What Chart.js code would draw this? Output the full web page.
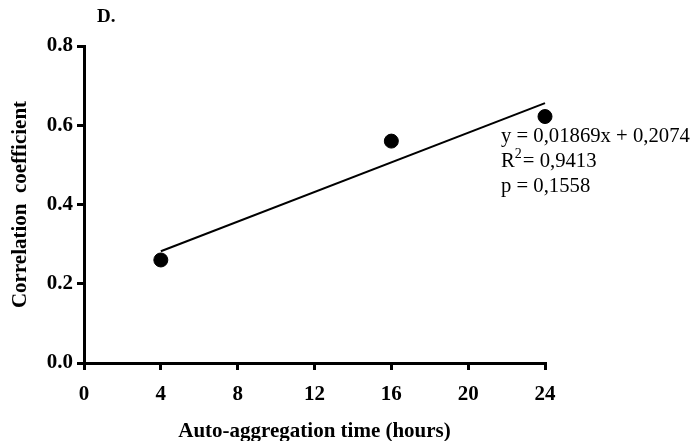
<!DOCTYPE html>
<html>
<head>
<meta charset="utf-8">
<title>D. Correlation coefficient vs auto-aggregation time</title>
<script src="https://cdnjs.cloudflare.com/ajax/libs/Chart.js/4.4.1/chart.umd.min.js"></script>
<style>
    html, body { margin: 0; padding: 0; background: #fff; }
    #wrap { width: 693px; height: 441px; position: relative; }
</style>
</head>
<body>
<div id="wrap"><canvas id="chart" width="693" height="441"></canvas></div>
<script>
/* Panel D: correlation coefficient over auto-aggregation time */

// ── Data ──────────────────────────────────────────────────────────────────
var hours       = [4, 16, 24];
var correlation = [0.26, 0.56, 0.622];

// fitted line ends (x = 4 and x = 24)
var fitHours = [4, 24];
var fitValues = [0.282, 0.656];

var xTicks = [0, 4, 8, 12, 16, 20, 24];
var yTicks = [0.0, 0.2, 0.4, 0.6, 0.8];

var panelLabel = 'D.';
var xTitle = 'Auto-aggregation time (hours)';
var yTitle = 'Correlation  coefficient';
var fitText = ['y = 0,01869x + 0,2074', '0,9413', 'p = 0,1558'];

(function () {
    'use strict';

    var SERIF = '"Liberation Serif", "Times New Roman", serif';

    function pairs(xs, ys) {
        return xs.map(function (x, i) { return { x: x, y: ys[i] }; });
    }

    // ── Text drawn on top: panel letter + regression box ───────────────────
    var notes = {
        id: 'notes',
        afterDraw: function (chart) {
            var ctx = chart.ctx;
            var area = chart.chartArea;
            ctx.save();
            ctx.fillStyle = '#000';
            ctx.textBaseline = 'alphabetic';

            ctx.font = 'bold 19px ' + SERIF;
            ctx.textAlign = 'left';
            ctx.fillText(panelLabel, area.left + 13, 22);

            var x0 = area.right - 44;
            ctx.font = '20.7px ' + SERIF;
            ctx.fillText(fitText[0], x0, 142);

            // R² with a raised small 2
            ctx.fillText('R', x0, 167);
            var rw = ctx.measureText('R').width;
            ctx.font = '14px ' + SERIF;
            ctx.fillText('2', x0 + rw, 158);
            var sw = ctx.measureText('2').width;
            ctx.font = '20.7px ' + SERIF;
            ctx.fillText('= ' + fitText[1], x0 + rw + sw + 1, 167);

            ctx.fillText(fitText[2], x0, 192);
            ctx.restore();
        }
    };

    var tickFont  = { family: SERIF, size: 21, weight: 'bold' };
    var titleFont = { family: SERIF, size: 21, weight: 'bold', lineHeight: 0.85 };

    new Chart(document.getElementById('chart').getContext('2d'), {
        type: 'scatter',
        data: {
            datasets: [
                {
                    label: 'fit',
                    type: 'line',
                    data: pairs(fitHours, fitValues),
                    borderColor: '#000',
                    borderWidth: 2,
                    pointRadius: 0,
                    fill: false,
                    clip: false,
                    order: 2
                },
                {
                    label: 'correlation',
                    data: pairs(hours, correlation),
                    backgroundColor: '#000',
                    borderColor: '#000',
                    pointRadius: 7,
                    pointHoverRadius: 7,
                    clip: false,
                    order: 1
                }
            ]
        },
        plugins: [notes],
        options: {
            responsive: false,
            animation: false,
            devicePixelRatio: 1,
            layout: { padding: { top: 46, right: 148, bottom: 0, left: 0 } },
            plugins: {
                legend: { display: false },
                tooltip: { enabled: false },
                title: { display: false }
            },
            scales: {
                x: {
                    type: 'linear',
                    min: xTicks[0],
                    max: xTicks[xTicks.length - 1],
                    afterBuildTicks: function (s) {
                        s.ticks = xTicks.map(function (v) { return { value: v }; });
                    },
                    afterFit: function (s) { s.height = 78; },
                    border: { display: true, color: '#000', width: 3 },
                    grid: { drawOnChartArea: false, drawTicks: true, tickLength: 7, color: '#000', lineWidth: 3 },
                    ticks: { color: '#000', font: tickFont, padding: 12, maxRotation: 0 },
                    title: { display: true, text: xTitle, color: '#000', font: titleFont, padding: { top: 0, bottom: 0 } }
                },
                y: {
                    type: 'linear',
                    min: yTicks[0],
                    max: yTicks[yTicks.length - 1],
                    afterBuildTicks: function (s) {
                        s.ticks = yTicks.map(function (v) { return { value: v }; });
                    },
                    afterFit: function (s) { s.width = 84; },
                    border: { display: true, color: '#000', width: 3 },
                    grid: { drawOnChartArea: false, drawTicks: true, tickLength: 7, color: '#000', lineWidth: 3 },
                    ticks: {
                        color: '#000',
                        font: tickFont,
                        padding: 4,
                        callback: function (v) { return Number(v).toFixed(1); }
                    },
                    title: { display: true, text: yTitle, color: '#000', font: titleFont, padding: { top: 12, bottom: 0 } }
                }
            }
        }
    });
}());
</script>
</body>
</html>
